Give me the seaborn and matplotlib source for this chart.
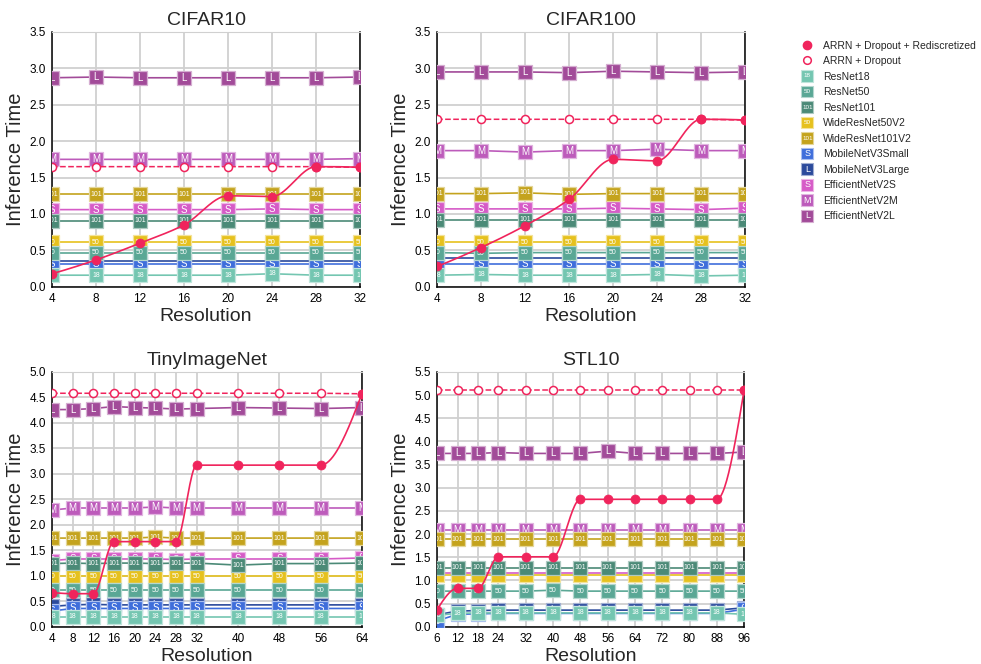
# Inference time vs. resolution for the four datasets

import numpy as np
import seaborn as sns
import matplotlib.pyplot as plt
from matplotlib.legend_handler import HandlerBase
from matplotlib.patches import Rectangle
from matplotlib.lines import Line2D
from matplotlib.text import Text

# ---- data ----
models = ['ResNet18', 'ResNet50', 'ResNet101', 'WideResNet50V2', 'WideResNet101V2',
          'MobileNetV3Small', 'MobileNetV3Large', 'EfficientNetV2S', 'EfficientNetV2M',
          'EfficientNetV2L']
tags = ['18', '50', '101', '50', '101', 'S', 'L', 'S', 'M', 'L']
colors = ['#74c6b1', '#5aa795', '#4b8a77', '#e6c11e', '#c4a31d',
          '#3f6edb', '#2b4a9c', '#d65bc7', '#bd5bbb', '#a24b99']

cifar10_res = [4, 8, 12, 16, 20, 24, 28, 32]
cifar10 = {
    'ResNet18': [0.16, 0.16, 0.16, 0.16, 0.16, 0.18, 0.16, 0.16],
    'ResNet50': [0.47, 0.47, 0.47, 0.47, 0.47, 0.47, 0.47, 0.47],
    'ResNet101': [0.91, 0.91, 0.91, 0.91, 0.91, 0.91, 0.91, 0.91],
    'WideResNet50V2': [0.61, 0.61, 0.61, 0.61, 0.61, 0.61, 0.61, 0.61],
    'WideResNet101V2': [1.27, 1.27, 1.27, 1.27, 1.27, 1.27, 1.27, 1.27],
    'MobileNetV3Small': [0.31, 0.31, 0.31, 0.31, 0.31, 0.31, 0.31, 0.31],
    'MobileNetV3Large': [0.36, 0.36, 0.36, 0.36, 0.36, 0.36, 0.36, 0.36],
    'EfficientNetV2S': [1.06, 1.06, 1.06, 1.06, 1.06, 1.07, 1.06, 1.06],
    'EfficientNetV2M': [1.75, 1.75, 1.75, 1.75, 1.75, 1.75, 1.75, 1.76],
    'EfficientNetV2L': [2.87, 2.88, 2.87, 2.87, 2.87, 2.87, 2.87, 2.88],
}
cifar10_drop = [1.65, 1.65, 1.65, 1.65, 1.65, 1.65, 1.65, 1.64]
cifar10_redisc = [0.18, 0.37, 0.60, 0.85, 1.25, 1.24, 1.65, 1.64]

cifar100_res = [4, 8, 12, 16, 20, 24, 28, 32]
cifar100 = {
    'ResNet18': [0.16, 0.17, 0.16, 0.16, 0.16, 0.17, 0.15, 0.16],
    'ResNet50': [0.47, 0.46, 0.47, 0.47, 0.47, 0.47, 0.47, 0.47],
    'ResNet101': [0.92, 0.92, 0.92, 0.92, 0.92, 0.92, 0.92, 0.92],
    'WideResNet50V2': [0.61, 0.61, 0.61, 0.61, 0.61, 0.61, 0.61, 0.61],
    'WideResNet101V2': [1.28, 1.28, 1.29, 1.27, 1.28, 1.28, 1.28, 1.28],
    'MobileNetV3Small': [0.31, 0.31, 0.31, 0.31, 0.31, 0.31, 0.31, 0.31],
    'MobileNetV3Large': [0.39, 0.39, 0.39, 0.39, 0.39, 0.39, 0.39, 0.39],
    'EfficientNetV2S': [1.07, 1.07, 1.07, 1.07, 1.08, 1.07, 1.06, 1.08],
    'EfficientNetV2M': [1.87, 1.87, 1.85, 1.87, 1.87, 1.89, 1.87, 1.87],
    'EfficientNetV2L': [2.95, 2.95, 2.95, 2.94, 2.96, 2.95, 2.94, 2.95],
}
cifar100_drop = [2.30, 2.30, 2.30, 2.30, 2.30, 2.30, 2.30, 2.29]
cifar100_redisc = [0.28, 0.54, 0.84, 1.20, 1.75, 1.73, 2.30, 2.29]

tiny_res = [4, 8, 12, 16, 20, 24, 28, 32, 40, 48, 56, 64]
tiny = {
    'ResNet18': [0.20, 0.20, 0.20, 0.20, 0.20, 0.20, 0.20, 0.20, 0.20, 0.20, 0.20, 0.20],
    'ResNet50': [0.72, 0.72, 0.72, 0.72, 0.72, 0.72, 0.72, 0.72, 0.72, 0.72, 0.72, 0.72],
    'ResNet101': [1.24, 1.25, 1.24, 1.25, 1.25, 1.24, 1.25, 1.25, 1.21, 1.24, 1.24, 1.25],
    'WideResNet50V2': [0.99, 0.99, 0.99, 0.99, 0.99, 0.99, 0.99, 0.99, 0.99, 0.99, 0.99, 0.99],
    'WideResNet101V2': [1.74, 1.74, 1.74, 1.74, 1.74, 1.76, 1.74, 1.74, 1.74, 1.74, 1.74, 1.74],
    'MobileNetV3Small': [0.31, 0.36, 0.36, 0.36, 0.36, 0.36, 0.36, 0.36, 0.36, 0.36, 0.36, 0.36],
    'MobileNetV3Large': [0.40, 0.43, 0.44, 0.43, 0.43, 0.43, 0.43, 0.43, 0.43, 0.43, 0.43, 0.43],
    'EfficientNetV2S': [1.30, 1.33, 1.33, 1.33, 1.33, 1.33, 1.32, 1.33, 1.33, 1.33, 1.33, 1.35],
    'EfficientNetV2M': [2.29, 2.33, 2.33, 2.33, 2.33, 2.35, 2.33, 2.33, 2.33, 2.33, 2.33, 2.33],
    'EfficientNetV2L': [4.26, 4.26, 4.28, 4.32, 4.30, 4.29, 4.27, 4.28, 4.30, 4.29, 4.28, 4.30],
}
tiny_drop = [4.58, 4.58, 4.58, 4.58, 4.58, 4.58, 4.58, 4.58, 4.58, 4.58, 4.58, 4.57]
tiny_redisc = [0.67, 0.65, 0.65, 1.67, 1.67, 1.67, 1.67, 3.17, 3.17, 3.17, 3.17, 4.57]

stl_res = [6, 12, 18, 24, 32, 40, 48, 56, 64, 72, 80, 88, 96]
stl = {
    'ResNet18': [0.25, 0.29, 0.30, 0.30, 0.30, 0.30, 0.30, 0.30, 0.30, 0.30, 0.30, 0.30, 0.27],
    'ResNet50': [0.77, 0.77, 0.77, 0.77, 0.77, 0.79, 0.77, 0.77, 0.77, 0.77, 0.77, 0.77, 0.77],
    'ResNet101': [1.27, 1.27, 1.27, 1.27, 1.27, 1.27, 1.27, 1.27, 1.27, 1.27, 1.27, 1.27, 1.27],
    'WideResNet50V2': [1.12, 1.12, 1.12, 1.12, 1.12, 1.12, 1.12, 1.12, 1.12, 1.12, 1.12, 1.12, 1.12],
    'WideResNet101V2': [1.89, 1.89, 1.89, 1.89, 1.89, 1.89, 1.89, 1.89, 1.89, 1.89, 1.89, 1.89, 1.89],
    'MobileNetV3Small': [0.13, 0.27, 0.28, 0.29, 0.29, 0.29, 0.29, 0.29, 0.29, 0.29, 0.29, 0.29, 0.38],
    'MobileNetV3Large': [0.26, 0.34, 0.35, 0.36, 0.36, 0.36, 0.36, 0.36, 0.36, 0.36, 0.36, 0.36, 0.41],
    'EfficientNetV2S': [1.16, 1.16, 1.16, 1.16, 1.16, 1.16, 1.16, 1.16, 1.16, 1.16, 1.16, 1.16, 1.16],
    'EfficientNetV2M': [2.09, 2.09, 2.09, 2.09, 2.09, 2.09, 2.09, 2.09, 2.09, 2.09, 2.09, 2.09, 2.09],
    'EfficientNetV2L': [3.74, 3.74, 3.74, 3.76, 3.74, 3.74, 3.74, 3.79, 3.74, 3.74, 3.74, 3.74, 3.77],
}
stl_drop = [5.10] * 13
stl_redisc = [0.37, 0.83, 0.83, 1.51, 1.51, 1.51, 2.75, 2.75, 2.75, 2.75, 2.75, 2.75, 5.10]

RED = '#f0245c'


def lighten(c, amt=0.55):
    rgb = np.array(plt.matplotlib.colors.to_rgb(c))
    return tuple(rgb + (1 - rgb) * amt)


def _edge_slope(h0, h1, m0, m1):
    d = ((2 * h0 + h1) * m0 - h0 * m1) / (h0 + h1)
    if np.sign(d) != np.sign(m0):
        return 0.0
    if np.sign(m0) != np.sign(m1) and abs(d) > abs(3 * m0):
        return 3 * m0
    return d


def smooth(x, y, n=300):
    # monotone cubic (pchip) path through the points, only used to draw the curve
    x = np.asarray(x, float)
    y = np.asarray(y, float)
    h = np.diff(x)
    d = np.diff(y) / h
    m = np.zeros_like(y)
    for k in range(1, len(x) - 1):
        if d[k - 1] * d[k] > 0:
            w1 = 2 * h[k] + h[k - 1]
            w2 = h[k] + 2 * h[k - 1]
            m[k] = (w1 + w2) / (w1 / d[k - 1] + w2 / d[k])
    m[0] = _edge_slope(h[0], h[1], d[0], d[1])
    m[-1] = _edge_slope(h[-1], h[-2], d[-1], d[-2])
    xs = np.linspace(x[0], x[-1], n)
    i = np.clip(np.searchsorted(x, xs) - 1, 0, len(x) - 2)
    t = (xs - x[i]) / h[i]
    ys = ((2 * t**3 - 3 * t**2 + 1) * y[i] + (t**3 - 2 * t**2 + t) * h[i] * m[i]
          + (-2 * t**3 + 3 * t**2) * y[i + 1] + (t**3 - t**2) * h[i] * m[i + 1])
    return xs, ys


class Badge:
    def __init__(self, color, tag):
        self.color = color
        self.tag = tag


class BadgeHandler(HandlerBase):
    def create_artists(self, legend, orig_handle, xdescent, ydescent, width, height, fontsize, trans):
        s = 8.5
        cx = -xdescent + width / 2
        cy = -ydescent + height / 2
        rect = Rectangle((cx - s / 2, cy - s / 2), s, s, facecolor=orig_handle.color,
                         edgecolor=lighten(orig_handle.color), lw=0.8, transform=trans)
        fs = 6.5 if orig_handle.tag.isalpha() else 4.5
        txt = Text(cx, cy, orig_handle.tag, color='white', ha='center', va='center',
                   fontsize=fs, transform=trans)
        return [rect, txt]


sns.set_style('white')
plt.rcParams['font.family'] = ['Liberation Sans', 'DejaVu Sans']

fig, axes = plt.subplots(2, 2, figsize=(9.81, 6.64), dpi=100)
positions = [[0.053, 0.568, 0.314, 0.384], [0.4455, 0.568, 0.314, 0.384],
             [0.053, 0.056, 0.316, 0.384], [0.4455, 0.056, 0.313, 0.384]]

panels = [('CIFAR10', cifar10_res, cifar10, cifar10_drop, cifar10_redisc, 3.5),
          ('CIFAR100', cifar100_res, cifar100, cifar100_drop, cifar100_redisc, 3.5),
          ('TinyImageNet', tiny_res, tiny, tiny_drop, tiny_redisc, 5.0),
          ('STL10', stl_res, stl, stl_drop, stl_redisc, 5.5)]

for ax, pos, (title, res, vals, drop, redisc, ymax) in zip(axes.flat, positions, panels):
    ax.set_position(pos)

    # models drawn in reverse legend order so the first ones sit on top
    for k in range(len(models) - 1, -1, -1):
        name = models[k]
        z = 3 + (len(models) - k) * 0.1
        sns.lineplot(x=res, y=vals[name], ax=ax, color=colors[k], lw=1.2, marker='s',
                     markersize=10, markeredgecolor=lighten(colors[k]), markeredgewidth=0.9,
                     zorder=z)
        fs = 7 if tags[k].isalpha() else 5
        for xv, yv in zip(res, vals[name]):
            ax.text(xv, yv, tags[k], color='white', ha='center', va='center', fontsize=fs,
                    zorder=z + 0.01, clip_on=True)

    sns.lineplot(x=res, y=drop, ax=ax, color=RED, lw=1.1, linestyle='--', marker='o',
                 markersize=5.8, markerfacecolor='white', markeredgecolor=RED,
                 markeredgewidth=1.1, zorder=10)
    xs, ys = smooth(res, redisc)
    sns.lineplot(x=xs, y=ys, ax=ax, color=RED, lw=1.2, zorder=11)
    sns.scatterplot(x=res, y=redisc, ax=ax, color=RED, s=42, edgecolor=RED, zorder=12)

    ax.set_xlim(res[0], res[-1])
    ax.set_ylim(0, ymax)
    ax.set_xticks(res)
    ax.set_yticks(np.arange(0, ymax + 0.01, 0.5))
    ax.set_yticklabels([f'{v:.1f}' for v in np.arange(0, ymax + 0.01, 0.5)])
    ax.tick_params(labelsize=8.5, length=3, width=1, pad=1.5, colors='black')
    ax.grid(True, color='#d0d0d0', lw=1.3)
    ax.set_axisbelow(True)
    for side in ['left', 'bottom', 'right']:
        ax.spines[side].set_color('black')
        ax.spines[side].set_linewidth(1.1)
    ax.spines['top'].set_color('#d0d0d0')
    ax.set_title(title, fontsize=14, pad=5)
    ax.set_xlabel('Resolution', fontsize=14, labelpad=2)
    ax.set_ylabel('Inference Time', fontsize=14.5, labelpad=3)

handles = [Line2D([], [], color=RED, marker='o', ls='', markersize=6),
           Line2D([], [], color=RED, marker='o', ls='', markersize=5.5,
                  markerfacecolor='white', markeredgewidth=1.1)]
handles += [Badge(c, t) for c, t in zip(colors, tags)]
labels = ['ARRN + Dropout + Rediscretized', 'ARRN + Dropout'] + models
fig.legend(handles, labels, handler_map={Badge: BadgeHandler()}, loc='upper left',
           bbox_to_anchor=(0.807, 0.953), frameon=False, fontsize=7.5, handlelength=1.2,
           handletextpad=0.9, labelspacing=0.53)

fig.savefig('out.png', dpi=100)
